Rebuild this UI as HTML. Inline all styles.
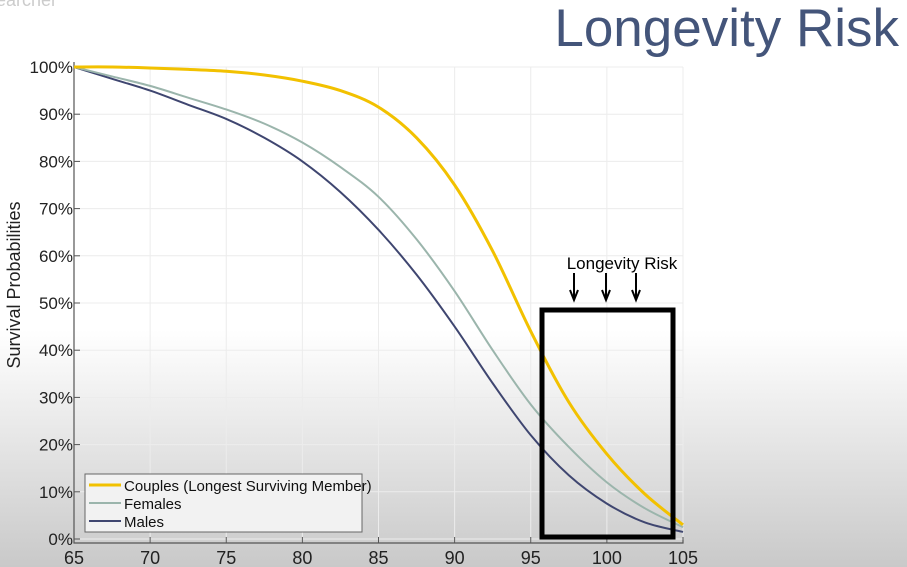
<!DOCTYPE html>
<html><head><meta charset="utf-8"><style>
html,body{margin:0;padding:0;}
body{width:907px;height:567px;overflow:hidden;background:linear-gradient(to bottom,#fff 0px,#fff 330px,#e6e6e6 440px,#c9c9c9 567px);font-family:"Liberation Sans",sans-serif;position:relative;}
</style></head><body>
<div style="position:absolute;left:-4px;top:-10px;font-size:18px;color:#ccc;">earcher</div>
<div style="position:absolute;right:8px;top:-2px;font-size:53px;color:#44557a;">Longevity Risk</div>
<svg id="chart" width="907" height="567" style="position:absolute;left:0;top:0;" xmlns="http://www.w3.org/2000/svg"></svg>
<script>
const ages=[65,67.5,70,72.5,75,77.5,80,82.5,85,87.5,90,92.5,95,97.5,100,102.5,105];
const couples=[100,100,99.8,99.5,99.1,98.3,97,95,91.5,85,75,61,44,29,18,9.5,3];
const females=[100,98,96,93.5,91,88,84,78.8,72.5,63.5,52.5,40,28.5,19.5,12,6.5,2.5];
const males=[100,97.5,95,92,89,85,80,73.5,65.5,56,45,33,22,13.5,7.5,3.5,1.5];
const xTicks=[65,70,75,80,85,90,95,100,105];
const yTicks=[0,10,20,30,40,50,60,70,80,90,100];
const X=a=>74+(a-65)*(683-74)/40;
const Y=v=>539-v*4.72;
const svg=document.getElementById('chart');
const NS='http://www.w3.org/2000/svg';
function mk(t,at,p){const e=document.createElementNS(NS,t);for(const k in at)e.setAttribute(k,at[k]);(p||svg).appendChild(e);return e;}
yTicks.forEach(v=>{const g=mk('line',{x1:74,x2:683,y1:Y(v),y2:Y(v),stroke:'#ececec','stroke-width':1});});
xTicks.forEach(a=>{const g=mk('line',{x1:X(a),x2:X(a),y1:67,y2:543,stroke:'#ececec','stroke-width':1});});
const ax=mk('path',{d:'M74,62 V543 H683 V540',stroke:'#555',fill:'none','stroke-width':1.2});

yTicks.forEach(v=>{mk('line',{x1:74,x2:80,y1:Y(v),y2:Y(v),stroke:'#555'});
const t=mk('text',{x:73,y:Y(v)+6,'text-anchor':'end','font-size':17,fill:'#222'});t.textContent=v+'%';
});
xTicks.forEach(a=>{mk('line',{x1:X(a),x2:X(a),y1:543,y2:537,stroke:'#555'});
const t=mk('text',{x:X(a),y:564,'text-anchor':'middle','font-size':18,fill:'#222'});t.textContent=a;
});
const yl=mk('text',{x:0,y:0,transform:'translate(20,285) rotate(-90)','text-anchor':'middle','font-size':18,fill:'#222'});yl.textContent='Survival Probabilities';

function pathFor(vals){const p=ages.map((a,i)=>[X(a),Y(vals[i])]);let d='M'+p[0][0]+','+p[0][1];
for(let i=0;i<p.length-1;i++){const p0=p[Math.max(0,i-1)],p1=p[i],p2=p[i+1],p3=p[Math.min(p.length-1,i+2)];
d+=' C'+(p1[0]+(p2[0]-p0[0])/6)+','+(p1[1]+(p2[1]-p0[1])/6)+' '+(p2[0]-(p3[0]-p1[0])/6)+','+(p2[1]-(p3[1]-p1[1])/6)+' '+p2[0]+','+p2[1];}return d;}
const m=mk('path',{d:pathFor(males),stroke:'#3f4670',fill:'none','stroke-width':2});

const f=mk('path',{d:pathFor(females),stroke:'#9bb5ac',fill:'none','stroke-width':2});

const c=mk('path',{d:pathFor(couples),stroke:'#f2c100',fill:'none','stroke-width':3});

const b=mk('rect',{x:542,y:310,width:131,height:227,fill:'none',stroke:'#000','stroke-width':5});

const at=mk('text',{x:622,y:269,'text-anchor':'middle','font-size':17,fill:'#000'});at.textContent='Longevity Risk';

[574,606,636].forEach(x=>{const a=mk('path',{d:`M${x},273 V299 M${x-4},290 L${x},300 L${x+4},290`,stroke:'#000','stroke-width':2,fill:'none'});
});
const lg=mk('g',{});
mk('rect',{x:85,y:474,width:277,height:58,fill:'#f2f2f2',stroke:'#666','stroke-width':1},lg);
[['Couples (Longest Surviving Member)','#f2c100',3],['Females','#9bb5ac',2],['Males','#3f4670',2]].forEach((e,i)=>{
const y=485+i*18;const g=mk('g',{},lg);
mk('line',{x1:89,x2:121,y1:y,y2:y,stroke:e[1],'stroke-width':e[2]},g);
const t=mk('text',{x:124,y:y+6,'font-size':15,fill:'#111'},g);t.textContent=e[0];});
</script>
</body></html>
